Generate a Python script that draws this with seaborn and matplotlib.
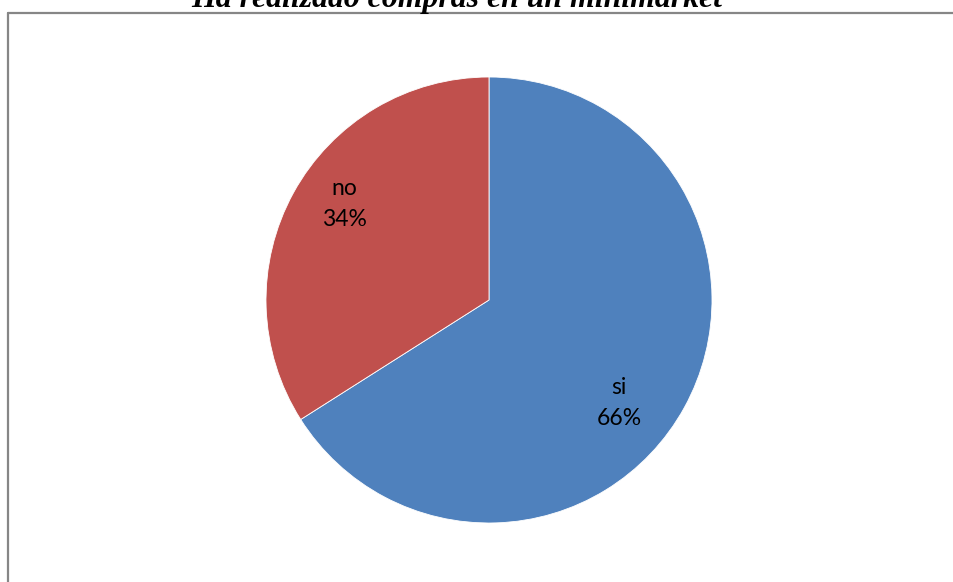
import matplotlib
matplotlib.use("Agg")
import matplotlib.pyplot as plt
from matplotlib.lines import Line2D
import seaborn as sns

sns.set_theme(style="white")
plt.rcParams["font.family"] = ["Lato", "DejaVu Sans"]

# Survey answers
categories = ["si", "no"]
shares = [66, 34]
colors = ["#4F81BD", "#C0504D"]
title = "Ha realizado compras en un minimarket"

W, H = 954, 582
fig = plt.figure(figsize=(W / 100, H / 100), dpi=100)
fig.patch.set_facecolor("white")

# Pie area: centre (489, 300), radius 223 px
cx, cy, r = 489, 300, 223
ax = fig.add_axes([(cx - r) / W, (H - cy - r) / H, 2 * r / W, 2 * r / H])

wedges, _ = ax.pie(
    shares, colors=colors, startangle=90, counterclock=False, radius=1,
    wedgeprops=dict(edgecolor="white", linewidth=0.6),
)
ax.set_xlim(-1, 1)
ax.set_ylim(-1, 1)
ax.set_aspect("equal")
ax.axis("off")

# Category/percentage labels placed inside each wedge
label_pos = {"si": (0.583, -0.462), "no": (-0.650, 0.430)}
for cat, val in zip(categories, shares):
    x, y = label_pos[cat]
    ax.text(x, y, f"{cat}\n{val}%", ha="center", va="center",
            fontsize=16.5, color="black", linespacing=1.6)

# Chart-area frame (left and top edges visible)
fig.add_artist(Line2D([8.5 / W, 8.5 / W], [0, 1 - 13 / H], transform=fig.transFigure,
                      color="#868686", linewidth=1.6))
fig.add_artist(Line2D([8 / W, 1], [1 - 13 / H, 1 - 13 / H], transform=fig.transFigure,
                      color="#868686", linewidth=1.6))

fig.text(457 / W, 1 - 6.5 / H, title, ha="center", va="baseline",
         fontsize=22.9, fontweight="bold", fontstyle="italic", color="black",
         family=["Liberation Serif", "DejaVu Serif"])

fig.savefig("out.png", dpi=100, facecolor="white")
